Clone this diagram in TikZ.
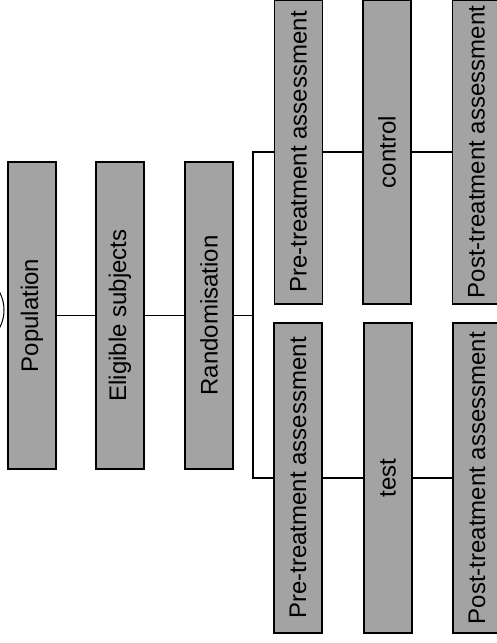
\documentclass[tikz,border=0pt]{standalone}
\usepackage{fontspec}
\setmainfont{Liberation Sans}
\begin{document}
\begin{tikzpicture}[x=1pt,y=-1pt,
  box/.style={draw=black,line width=1.3pt,fill=black!36,rotate=90,inner sep=0pt,
    minimum height=48pt,font=\fontsize{24}{26}\selectfont,text=black},
  link/.style={draw=black,line width=1.2pt}]
\useasboundingbox (0,0) rectangle (497,643);
% middle row
\node[box,minimum width=307pt] (pop)  at (32,315.5)  {Population};
\node[box,minimum width=307pt] (elig) at (120,315.5) {Eligible subjects};
\node[box,minimum width=307pt] (rand) at (209,315.5) {Randomisation};
% top row
\node[box,minimum width=304pt] (preA)  at (298.5,152) {Pre-treatment assessment};
\node[box,minimum width=304pt] (ctrl)  at (387,152)   {control};
\node[box,minimum width=304pt] (postA) at (476.5,152) {Post-treatment assessment};
% bottom row
\node[box,minimum width=310pt] (preB)  at (298,478) {Pre-treatment assessment};
\node[box,minimum width=310pt] (test)  at (388,478) {test};
\node[box,minimum width=310pt] (postB) at (477,478) {Post-treatment assessment};
\coordinate (j) at (253,315.5);
% connectors
\draw[link] (pop.south) -- (elig.north);
\draw[link] (elig.south) -- (rand.north);
\draw[link] (rand.south) -- (j);
\draw[link] (preA.north) -| (j) |- (preB.north);
\draw[link] (preA.south) -- (ctrl.north);
\draw[link] (ctrl.south) -- (postA.north);
\draw[link] (preB.south) -- (test.north);
\draw[link] (test.south) -- (postB.north);
% partial circle at left edge
\draw[line width=1pt] (-34,310) circle (38);
\end{tikzpicture}
\end{document}
